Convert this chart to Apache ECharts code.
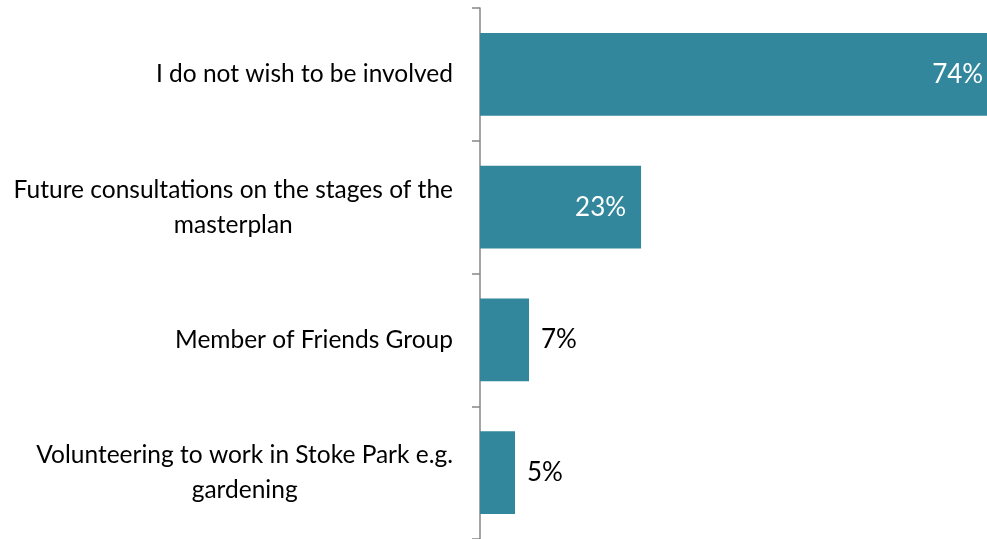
<!DOCTYPE html>
<html>
<head>
<meta charset="utf-8">
<script src="https://cdn.jsdelivr.net/npm/echarts@6/dist/echarts.min.js"></script>
<style>html,body{margin:0;padding:0;background:#fff;}#c{width:987px;height:539px;}</style>
</head>
<body>
<div id="c"></div>
<script>
const categories = [
  'I do not wish to be involved',
  'Future consultations on the stages of the\nmasterplan',
  'Member of Friends Group',
  'Volunteering to work in Stoke Park e.g.\ngardening'
];
const values = [74, 23, 7, 5];
const insideThreshold = 20;

const chart = echarts.init(document.getElementById('c'));
const FONT = 'Lato';
chart.setOption({
  animation: false,
  backgroundColor: '#ffffff',
  grid: { left: 480, top: 8, height: 532, right: 0, containLabel: false },
  xAxis: { type: 'value', min: 0, max: 72.4, show: false, splitLine: { show: false } },
  yAxis: {
    type: 'category',
    inverse: true,
    data: categories,
    axisLine: { show: true, lineStyle: { color: '#868686', width: 1.5 } },
    axisTick: { show: true, length: 8, lineStyle: { color: '#868686', width: 1.5 } },
    axisLabel: {
      margin: 27,
      fontFamily: FONT,
      fontSize: 24.5,
      color: '#000',
      lineHeight: 35,
      formatter: function (v) {
        return v.split('\n').map(function (l) { return '{a|' + l + '}'; }).join('\n');
      },
      rich: { a: { align: 'center', fontFamily: FONT, fontSize: 24.5, color: '#000', lineHeight: 35 } }
    }
  },
  series: [{
    type: 'bar',
    clip: false,
    data: values.map(function (v) {
      const inside = v >= insideThreshold;
      return {
        value: v,
        label: inside
          ? { position: 'insideRight', distance: 15, color: '#ffffff' }
          : { position: 'right', distance: 12, color: '#000000' }
      };
    }),
    barCategoryGap: '37.6%',
    itemStyle: { color: '#33879C' },
    label: {
      show: true,
      fontFamily: FONT,
      fontSize: 26,
      formatter: '{c}%'
    }
  }]
});
</script>
</body>
</html>
